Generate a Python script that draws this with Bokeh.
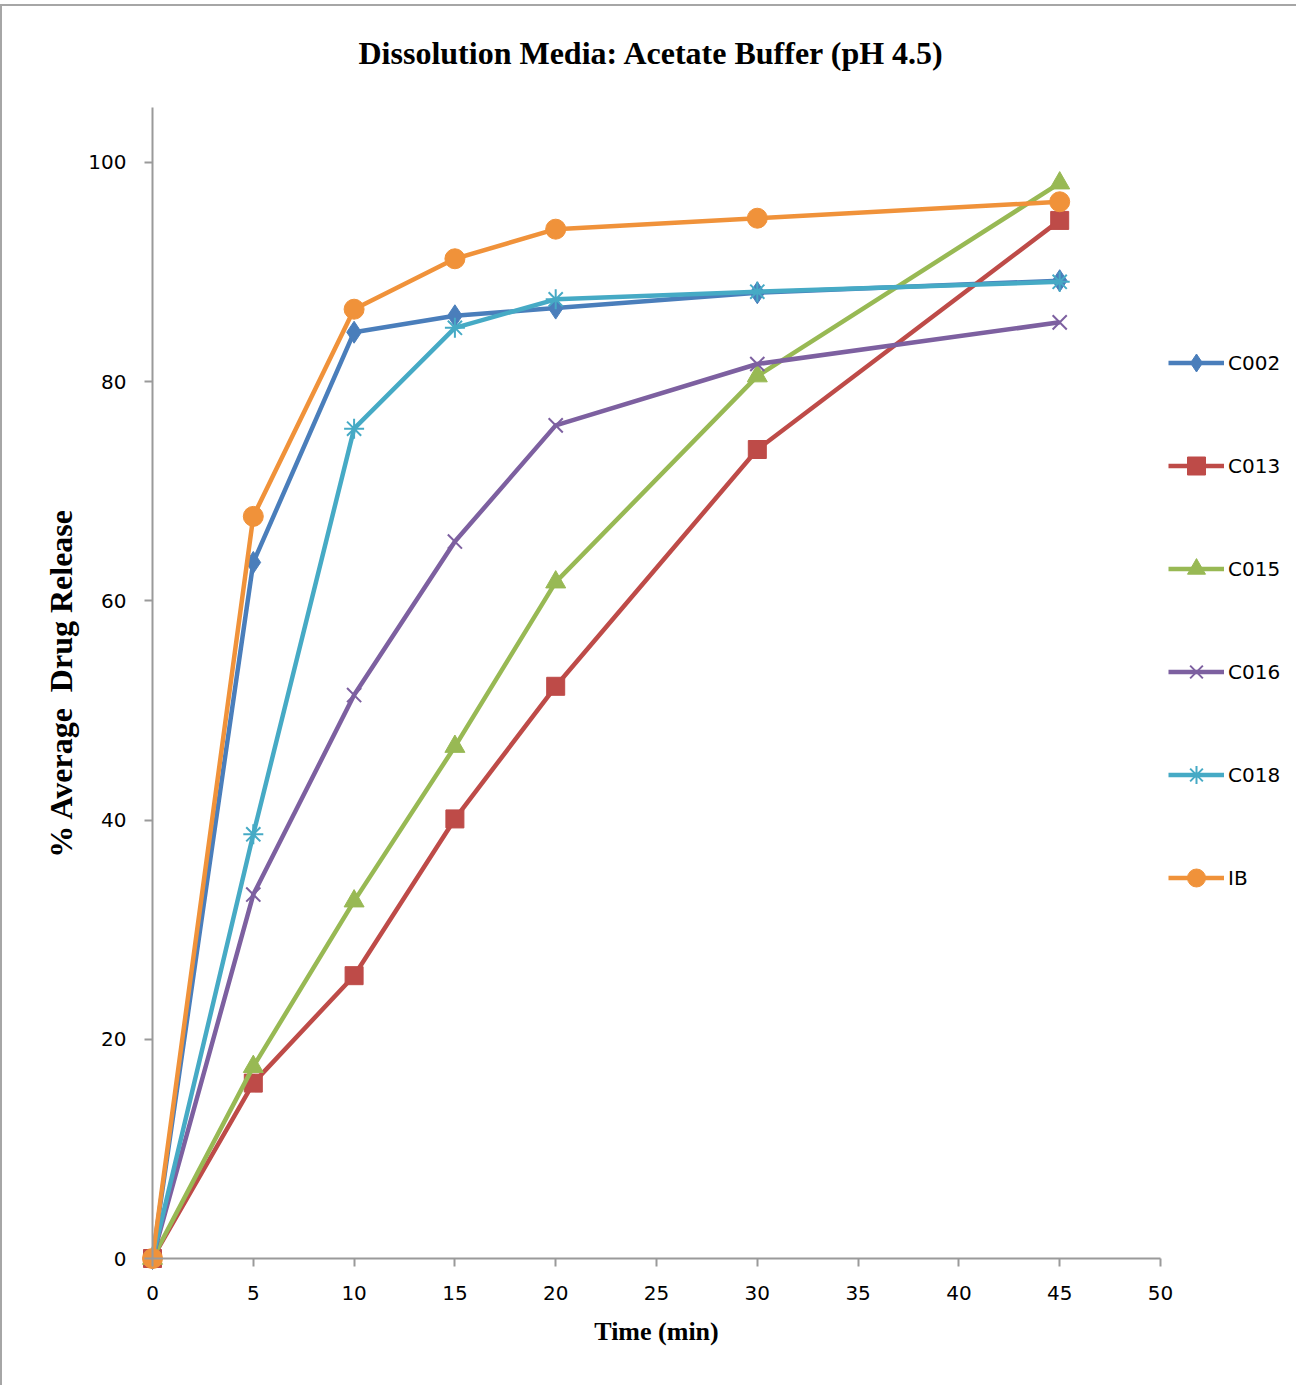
from bokeh.plotting import figure
from bokeh.layouts import column
from bokeh.models import Range1d, Legend, LegendItem, FixedTicker
from bokeh.embed import file_html
from bokeh.resources import INLINE

# Sampling times (min)
time = [0, 5, 10, 15, 20, 30, 45]

# % average drug release per formulation
c002 = [0, 63.5, 84.5, 86.0, 86.7, 88.1, 89.2]
c013 = [0, 16.0, 25.8, 40.1, 52.2, 73.8, 94.7]
c015 = [0, 17.5, 32.6, 46.7, 61.7, 80.5, 98.1]
c016 = [0, 33.2, 51.4, 65.4, 76.0, 81.6, 85.4]
c018 = [0, 38.7, 75.7, 84.9, 87.5, 88.2, 89.1]
ib = [0, 67.7, 86.6, 91.2, 93.9, 94.9, 96.4]

names = ["C002", "C013", "C015", "C016", "C018", "IB"]
series = [c002, c013, c015, c016, c018, ib]

x_ticks = [0, 5, 10, 15, 20, 25, 30, 35, 40, 45, 50]
y_ticks = [0, 20, 40, 60, 80, 100]

styles = {
    "C002": dict(color="#4A7EBB", marker="diamond", size=22),
    "C013": dict(color="#BE4B48", marker="square", size=18),
    "C015": dict(color="#98B954", marker="triangle", size=20),
    "C016": dict(color="#7D60A0", marker="x", size=20),
    "C018": dict(color="#46AAC5", marker="asterisk", size=20),
    "IB": dict(color="#F0923A", marker="circle", size=20),
}

# Axes sit at x=0 / y=0; the frame is widened so the axes, their labels,
# the legend and the markers at the origin all stay inside it.
PX_X = 20.16   # pixels per minute
PX_Y = 10.962  # pixels per percent

p = figure(
    width=1294, height=1379,
    x_range=Range1d(-110 / PX_X, 50.0 + 132 / PX_X),
    y_range=Range1d(-92 / PX_Y, 105.0 + 11 / PX_Y),
    output_backend="svg", toolbar_location=None,
    min_border_left=40, min_border_right=4,
    min_border_top=90, min_border_bottom=35,
    title="Dissolution Media: Acetate Buffer (pH 4.5)",
)
p.outline_line_color = None
p.background_fill_color = "white"
p.border_fill_color = "white"
p.grid.visible = False

p.title.align = "left"
p.title.offset = 316
p.title.text_font = "Liberation Serif"
p.title.text_font_style = "bold"
p.title.text_font_size = "32px"
p.title.text_color = "black"
p.title.standoff = 51

for ax, ticks, bound in ((p.xaxis[0], x_ticks, (0, 50)), (p.yaxis[0], y_ticks, (0, 105))):
    ax.ticker = FixedTicker(ticks=ticks)
    ax.bounds = bound
    ax.fixed_location = 0
    ax.axis_line_color = "#9a9a9a"
    ax.axis_line_width = 2
    ax.major_tick_line_color = "#9a9a9a"
    ax.major_tick_line_width = 2
    ax.major_tick_in = 0
    ax.major_tick_out = 8
    ax.minor_tick_line_color = None
    ax.major_label_text_font = "DejaVu Sans"
    ax.major_label_text_font_size = "20px"
    ax.major_label_text_color = "black"
    ax.axis_label_text_font = "Liberation Serif"
    ax.axis_label_text_font_style = "bold"
    ax.axis_label_text_color = "black"

p.xaxis.axis_label = "Time (min)"
p.yaxis.axis_label = "% Average\u00a0\u00a0Drug Release"
p.xaxis.axis_label_text_font_size = "26px"
p.yaxis.axis_label_text_font_size = "32px"
p.xaxis.major_label_standoff = 19
p.yaxis.major_label_standoff = 18
p.xaxis.axis_label_standoff = 14
p.yaxis.axis_label_standoff = 6

items = []
for name, ys in zip(names, series):
    st = styles[name]
    line = p.line(time, ys, line_color=st["color"], line_width=4.5)
    if st["marker"] in ("x", "asterisk"):
        mk = p.scatter(time, ys, marker=st["marker"], size=st["size"],
                       line_color=st["color"], line_width=2)
    else:
        mk = p.scatter(time, ys, marker=st["marker"], size=st["size"],
                       fill_color=st["color"], line_color=st["color"], line_width=1)
    items.append(LegendItem(label=name, renderers=[line, mk]))

legend = Legend(
    items=items, location=(1126, 450),
    glyph_width=56, glyph_height=45, label_standoff=4, spacing=58,
    padding=0, margin=0, border_line_color=None, background_fill_alpha=0,
    label_text_font="DejaVu Sans", label_text_font_size="20px",
    label_text_color="black",
)
p.add_layout(legend)

page = column(p, styles={
    "border-top": "2px solid #a6a6a6",
    "border-left": "2px solid #a6a6a6",
    "margin-top": "4px",
})

open("out.html", "w").write(file_html(page, INLINE))
